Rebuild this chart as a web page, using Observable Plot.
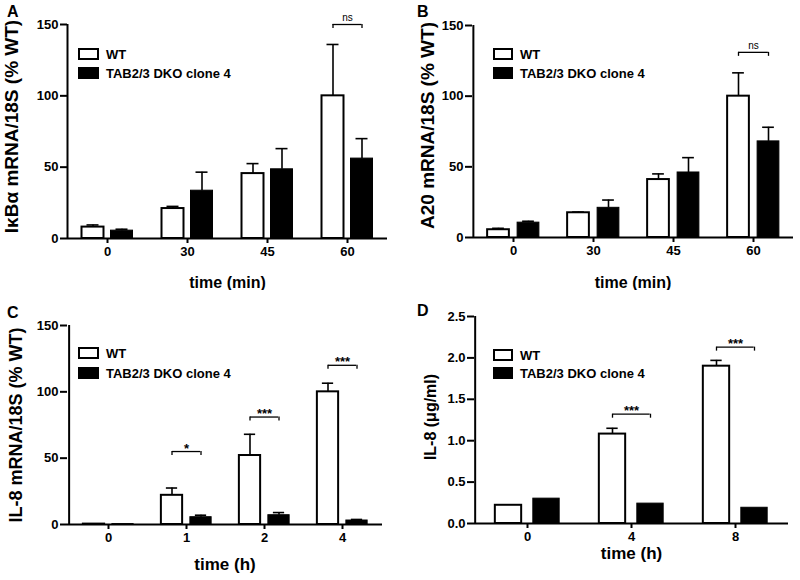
<!DOCTYPE html>
<html><head><meta charset="utf-8">
<script src="https://cdn.jsdelivr.net/npm/d3@7"></script>
<script src="https://cdn.jsdelivr.net/npm/@observablehq/plot@0.6"></script>
<style>
body{margin:0;background:#fff;font-family:"Liberation Sans",Arial,sans-serif;}
#root{position:relative;width:800px;height:580px;overflow:hidden;}
.panel{position:absolute;width:400px;height:290px;}
.letter{position:absolute;font-weight:bold;font-size:16px;line-height:16px;}
.legtext{position:absolute;font-weight:bold;font-size:13px;line-height:13px;white-space:nowrap;}
.box{position:absolute;box-sizing:border-box;border:2px solid #000;}
</style></head><body><div id="root"></div>
<script>
// ---------- DATA ----------
const series = ["WT", "TAB2/3 DKO clone 4"];

// Panel A: IκBα mRNA
const groupsA = ["0", "30", "45", "60"];
const wtA = [8, 21, 45.5, 100];
const wtErrA = [1.5, 1.5, 7, 36];
const koA = [5.5, 33.5, 48.5, 56];
const koErrA = [1, 13, 14.5, 14];
const sigGroupsA = ["60"];
const sigLevelsA = [150];
const sigLabelsA = ["ns"];

// Panel B: A20 mRNA
const groupsB = ["0", "30", "45", "60"];
const wtB = [5.5, 17.5, 41, 100];
const wtErrB = [1, 0.5, 4, 16.5];
const koB = [10.5, 21, 46, 68];
const koErrB = [1, 5.5, 10.5, 10];
const sigGroupsB = ["60"];
const sigLevelsB = [131];
const sigLabelsB = ["ns"];

// Panel C: IL-8 mRNA
const groupsC = ["0", "1", "2", "4"];
const wtC = [0.3, 22, 52, 100];
const wtErrC = [0, 5.5, 16, 6.5];
const koC = [0.3, 5.5, 7, 3];
const koErrC = [0, 1.5, 2, 0.8];
const sigGroupsC = ["1", "2", "4"];
const sigLevelsC = [55, 81, 120];
const sigLabelsC = ["*", "***", "***"];

// Panel D: IL-8 protein
const groupsD = ["0", "4", "8"];
const wtD = [0.22, 1.08, 1.90];
const wtErrD = [0, 0.07, 0.07];
const koD = [0.30, 0.24, 0.19];
const koErrD = [0, 0, 0];
const sigGroupsD = ["4", "8"];
const sigLevelsD = [1.32, 2.13];
const sigLabelsD = ["***", "***"];

const yTicksPct = [0, 50, 100, 150];
const yTicksD = [0, 0.5, 1.0, 1.5, 2.0, 2.5];

// ---------- BUILD ----------
const root = document.getElementById("root");

function panel(cfg) {
  const W = 400, H = 290;
  const n = cfg.groups.length;
  const bw = (W - cfg.ml - cfg.mr) / n;
  const off = cfg.gap / 2 + cfg.barW / 2;
  const plotH = H - cfg.mt - cfg.mb;
  const rows = [];
  cfg.groups.forEach((g, i) => {
    rows.push({group: g, s: 0, value: cfg.wt[i], err: cfg.wtErr[i]});
    rows.push({group: g, s: 1, value: cfg.ko[i], err: cfg.koErr[i]});
  });
  const wtRows = rows.filter(d => d.s === 0);
  const koRows = rows.filter(d => d.s === 1);
  const sig = cfg.sigGroups.map((g, i) => ({group: g, level: cfg.sigLevels[i], label: cfg.sigLabels[i]}));
  const tickLen = 4 * cfg.yMax / plotH;
  const capHalf = 6;
  const errMarks = (data, o) => [
    Plot.ruleX(data.filter(d => d.err > 0), {x: "group", y1: "value", y2: d => d.value + d.err, dx: o, stroke: "black", strokeWidth: 1.6}),
    Plot.tickY(data.filter(d => d.err > 0), {x: "group", y: d => d.value + d.err, insetLeft: bw / 2 + o - capHalf, insetRight: bw / 2 - o - capHalf, stroke: "black", strokeWidth: 1.6})
  ];
  const svg = Plot.plot({
    width: W, height: H,
    marginLeft: cfg.ml, marginRight: cfg.mr, marginTop: cfg.mt, marginBottom: cfg.mb,
    style: {fontFamily: '"Liberation Sans", Arial, sans-serif', fontWeight: "bold", fontSize: "13px", color: "black", background: "white"},
    x: {domain: cfg.groups, padding: 0},
    y: {domain: [0, cfg.yMax]},
    marks: [
      ...errMarks(wtRows, -off),
      ...errMarks(koRows, off),
      Plot.barY(wtRows, {x: "group", y: "value", fill: "white", stroke: "black", strokeWidth: 2,
        insetLeft: bw / 2 - cfg.gap / 2 - cfg.barW, insetRight: bw / 2 + cfg.gap / 2}),
      Plot.barY(koRows, {x: "group", y: "value", fill: "black", stroke: "black", strokeWidth: 1,
        insetLeft: bw / 2 + cfg.gap / 2, insetRight: bw / 2 - cfg.gap / 2 - cfg.barW}),
      Plot.axisY({ticks: cfg.yTicks, tickFormat: cfg.tickFormat, tickSize: 7, tickPadding: 2, strokeWidth: 2, label: null, fontSize: 13, fontWeight: "bold"}),
      Plot.axisX({tickSize: 5, tickPadding: 3, strokeWidth: 2, label: null, fontSize: 13, fontWeight: "bold"}),
      Plot.ruleY([0], {stroke: "black", strokeWidth: 2}),
      Plot.ruleX([cfg.groups[0]], {x: d => d, y1: 0, y2: cfg.yMax, dx: -bw / 2, stroke: "black", strokeWidth: 2}),
      // significance brackets
      Plot.tickY(sig, {x: "group", y: "level", insetLeft: bw / 2 - off, insetRight: bw / 2 - off, stroke: "black", strokeWidth: 1.3}),
      Plot.ruleX(sig, {x: "group", y1: "level", y2: d => d.level - tickLen, dx: -off, stroke: "black", strokeWidth: 1.3}),
      Plot.ruleX(sig, {x: "group", y1: "level", y2: d => d.level - tickLen, dx: off, stroke: "black", strokeWidth: 1.3}),
      Plot.text(sig.filter(d => d.label === "ns"), {x: "group", y: "level", text: "label", dy: -7, fontSize: 10, fontWeight: "normal", fill: "black"}),
      Plot.text(sig.filter(d => d.label !== "ns"), {x: "group", y: "level", text: "label", dy: -3, fontSize: 13, fontWeight: "bold", fill: "black"}),
      // axis titles
      Plot.text([cfg.xTitle], {text: d => d, frameAnchor: "bottom", textAnchor: "middle", lineAnchor: "middle", dy: cfg.xTitleDy, fontSize: cfg.xTitleSize, fontWeight: "bold", fill: "black"}),
      Plot.text([cfg.yTitle], {text: d => d, frameAnchor: "left", textAnchor: "middle", lineAnchor: "middle", dx: cfg.yTitleDx, dy: cfg.yTitleDy, rotate: -90, fontSize: cfg.yTitleSize, fontWeight: "bold", fill: "black"})
    ]
  });
  const div = document.createElement("div");
  div.className = "panel";
  div.style.left = cfg.left + "px";
  div.style.top = cfg.top + "px";
  div.appendChild(svg);
  // panel letter
  const L = document.createElement("div");
  L.className = "letter";
  L.textContent = cfg.letter;
  L.style.left = cfg.letterX + "px";
  L.style.top = cfg.letterY + "px";
  div.appendChild(L);
  // legend
  series.forEach((s, i) => {
    const b = document.createElement("div");
    b.className = "box";
    b.style.left = cfg.legX + "px";
    b.style.top = (cfg.legY + i * cfg.legStep) + "px";
    b.style.width = cfg.legW + "px";
    b.style.height = cfg.legH + "px";
    b.style.background = i === 0 ? "white" : "black";
    div.appendChild(b);
    const t = document.createElement("div");
    t.className = "legtext";
    t.textContent = s;
    t.style.left = (cfg.legX + cfg.legW + 7) + "px";
    t.style.top = (cfg.legY + i * cfg.legStep) + "px";
    div.appendChild(t);
  });
  root.appendChild(div);
}

panel({left: 0, top: 0, letter: "A", letterX: 7, letterY: 4,
  groups: groupsA, wt: wtA, wtErr: wtErrA, ko: koA, koErr: koErrA,
  sigGroups: sigGroupsA, sigLevels: sigLevelsA, sigLabels: sigLabelsA,
  yMax: 150, yTicks: yTicksPct, tickFormat: d3.format("d"),
  ml: 67, mr: 13, mt: 24, mb: 52, barW: 22, gap: 7,
  xTitle: "time (min)", xTitleDy: 44, xTitleSize: 16,
  yTitle: "IκBα mRNA/18S (% WT)", yTitleDx: -56, yTitleDy: -5, yTitleSize: 19,
  legX: 78, legY: 48, legStep: 19, legW: 21, legH: 12});

panel({left: 400, top: 0, letter: "B", letterX: 17, letterY: 4,
  groups: groupsB, wt: wtB, wtErr: wtErrB, ko: koB, koErr: koErrB,
  sigGroups: sigGroupsB, sigLevels: sigLevelsB, sigLabels: sigLabelsB,
  yMax: 150, yTicks: yTicksPct, tickFormat: d3.format("d"),
  ml: 72, mr: 7, mt: 25, mb: 53, barW: 22, gap: 8,
  xTitle: "time (min)", xTitleDy: 45, xTitleSize: 16,
  yTitle: "A20 mRNA/18S (% WT)", yTitleDx: -45, yTitleDy: -6, yTitleSize: 19,
  legX: 93, legY: 48, legStep: 19, legW: 20, legH: 12});

panel({left: 0, top: 290, letter: "C", letterX: 7, letterY: 15,
  groups: groupsC, wt: wtC, wtErr: wtErrC, ko: koC, koErr: koErrC,
  sigGroups: sigGroupsC, sigLevels: sigLevelsC, sigLabels: sigLabelsC,
  yMax: 150, yTicks: yTicksPct, tickFormat: d3.format("d"),
  ml: 67, mr: 18, mt: 35, mb: 56, barW: 22, gap: 7,
  xTitle: "time (h)", xTitleDy: 40, xTitleSize: 17,
  yTitle: "IL-8 mRNA/18S (% WT)", yTitleDx: -51, yTitleDy: 0, yTitleSize: 18,
  legX: 78, legY: 57, legStep: 20, legW: 21, legH: 12});

panel({left: 400, top: 290, letter: "D", letterX: 17, letterY: 13,
  groups: groupsD, wt: wtD, wtErr: wtErrD, ko: koD, koErr: koErrD,
  sigGroups: sigGroupsD, sigLevels: sigLevelsD, sigLabels: sigLabelsD,
  yMax: 2.5, yTicks: yTicksD, tickFormat: d3.format(".1f"),
  ml: 74, mr: 12, mt: 26, mb: 57, barW: 27, gap: 11,
  xTitle: "time (h)", xTitleDy: 30, xTitleSize: 17,
  yTitle: "IL-8 (μg/ml)", yTitleDx: -44, yTitleDy: -3, yTitleSize: 16,
  legX: 93, legY: 59, legStep: 18, legW: 20, legH: 12});
</script></body></html>
